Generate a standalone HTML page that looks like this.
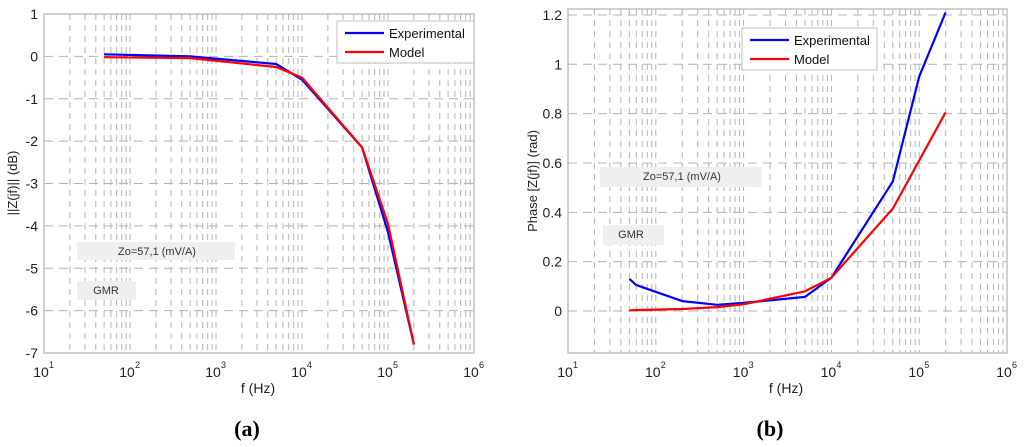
<!DOCTYPE html>
<html><head><meta charset="utf-8"><style>
body{margin:0;background:#fff;}
svg{display:block;font-family:"Liberation Sans",Arial,sans-serif;}
</style></head><body>
<svg id="c" width="1024" height="447" viewBox="0 0 1024 447"></svg>
<script>
const freqA = [50, 500, 5000, 10000, 50000, 100000, 200000];
const expA = [0.05, 0.0, -0.18, -0.55, -2.15, -4.15, -6.8];
const modA = [-0.02, -0.04, -0.25, -0.5, -2.15, -3.95, -6.8];
const yTicksA = [1, 0, -1, -2, -3, -4, -5, -6, -7];

const freqBexp = [50, 60, 200, 500, 1000, 5000, 10000, 50000, 100000, 200000];
const expB = [0.13, 0.105, 0.04, 0.025, 0.033, 0.057, 0.135, 0.525, 0.95, 1.21];
const freqBmod = [50, 200, 500, 1000, 5000, 10000, 50000, 200000];
const modB = [0.003, 0.008, 0.016, 0.027, 0.08, 0.135, 0.415, 0.805];
const yTicksB = [0, 0.2, 0.4, 0.6, 0.8, 1, 1.2];
const yTickLabelsB = ["0", "0.2", "0.4", "0.6", "0.8", "1", "1.2"];
const xDecades = [1, 2, 3, 4, 5, 6];

const svg = document.getElementById('c');
const NS = 'http://www.w3.org/2000/svg';
function mk(tag, attrs, parent){const e=document.createElementNS(NS,tag);for(const k in attrs)e.setAttribute(k,attrs[k]);(parent||svg).appendChild(e);return e;}

function plot(cfg){
  const g = mk('g',{});
  
  
  const {x0,x1,yTop,yBot,v0,p0,v1,p1} = cfg;
  const xs = f => x0 + (Math.log10(f)-1)/5*(x1-x0);
  const ys = v => p0 + (v-v0)*(p1-p0)/(v1-v0);
  const bg = mk('rect',{x:x0,y:yTop,width:x1-x0,height:yBot-yTop,fill:'#fff',stroke:'#c0c0c0','stroke-width':1.5},g);
  
  
  for(let d=1; d<6; d++){
    for(let m=1;m<=9;m++){
      if(d===1&&m===1)continue;
      const x = xs(m*Math.pow(10,d));
      const l = mk('line',{x1:x,x2:x,y1:yTop,y2:yBot,stroke:'#b4b4b4','stroke-width':1,'stroke-dasharray':'6,5'},g);
      
      
    }
  }
  cfg.yTicks.forEach((v,i)=>{
    const y = ys(v);
    if(y>yTop+1 && y<yBot-1){
      const l = mk('line',{x1:x0,x2:x1,y1:y,y2:y,stroke:'#b4b4b4','stroke-width':1,'stroke-dasharray':'9,6'},g);
      
      
    }
    const t = mk('text',{x:x0-6,y:y+5,'text-anchor':'end','font-size':14,fill:'#222'},g);
    t.textContent = cfg.yLabels[i];
    
    
  });
  xDecades.forEach(d=>{
    const x = xs(Math.pow(10,d));
    const t = mk('text',{x:x-3,y:yBot+24,'text-anchor':'middle','font-size':14,fill:'#222'},g);
    t.textContent='10';
    
    
    const s = mk('text',{x:x+5,y:yBot+15,'font-size':9,fill:'#222'},g);
    s.textContent=String(d);
    
    
  });
  cfg.boxes.forEach(b=>{
    const r = mk('rect',{x:b[0],y:b[1],width:b[2],height:b[3],fill:'#efefef'},g);
    
    
    const t = mk('text',{x:b[0]+b[5],y:b[1]+13,'text-anchor':'middle','font-size':11,fill:'#333'},g);
    t.textContent=b[4];
    
    
  });
  cfg.series.forEach(s=>{
    const pts = s.f.map((f,i)=>xs(f).toFixed(1)+','+ys(s.v[i]).toFixed(1)).join(' ');
    const p = mk('polyline',{points:pts,fill:'none',stroke:s.c,'stroke-width':2.2,'stroke-linejoin':'round'},g);
    
    
  });
  const L = cfg.legend;
  const lg = mk('g',{},g);
  
  
  mk('rect',{x:L[0],y:L[1],width:L[2],height:42,fill:'#fff',stroke:'#c0c0c0','stroke-width':1},lg);
  [['Experimental','#0000ff'],['Model','#ff0000']].forEach((e,i)=>{
    const y=L[1]+12+i*19;
    mk('line',{x1:L[0]+8,x2:L[0]+47,y1:y,y2:y,stroke:e[1],'stroke-width':2.2},lg);
    const t=mk('text',{x:L[0]+52,y:y+5,'font-size':13,fill:'#111'},lg);
    t.textContent=e[0];
    
    
  });
  const xl = mk('text',{x:cfg.xLabelX,y:yBot+40,'text-anchor':'middle','font-size':14,fill:'#222'},g);
  xl.textContent='f (Hz)';
  
  
  const yl = mk('text',{x:0,y:0,'text-anchor':'middle','font-size':13,fill:'#222',transform:`translate(${cfg.yLabelX},${cfg.yLabelY}) rotate(-90)`},g);
  yl.textContent=cfg.yTitle;
  
  
  const cap = mk('text',{x:cfg.capX,y:436,'text-anchor':'middle','font-size':22,'font-weight':'bold','font-family':'"Liberation Serif",serif',fill:'#000'},g);
  cap.textContent=cfg.cap;
  
  
}

plot({name:'magnitude-chart',x0:44,x1:474,yTop:14,yBot:353,v0:1,p0:14,v1:-7,p1:353,
  yTicks:yTicksA,yLabels:yTicksA.map(String),
  boxes:[[77,242,158,18,'Zo=57,1 (mV/A)',80],[77,281,59,19,'GMR',29]],
  series:[{f:freqA,v:expA,c:'#0000ff',name:'experimental-line'},{f:freqA,v:modA,c:'#ff0000',name:'model-line'}],
  legend:[337,21,137],xLabelX:258,yLabelX:17,yLabelY:183,yTitle:'||Z(jf)|| (dB)',capX:247,cap:'(a)'});

plot({name:'phase-chart',x0:568,x1:1007,yTop:9,yBot:353,v0:0,p0:311,v1:1,p1:64.3,
  yTicks:yTicksB,yLabels:yTickLabelsB,
  boxes:[[600,167,162,20,'Zo=57,1 (mV/A)',82],[603,225,61,20,'GMR',28]],
  series:[{f:freqBexp,v:expB,c:'#0000ff',name:'experimental-line'},{f:freqBmod,v:modB,c:'#ff0000',name:'model-line'}],
  legend:[742,28,135],xLabelX:786,yLabelX:537,yLabelY:181,yTitle:'Phase [Z(jf)] (rad)',capX:770,cap:'(b)'});
</script>
</body></html>
